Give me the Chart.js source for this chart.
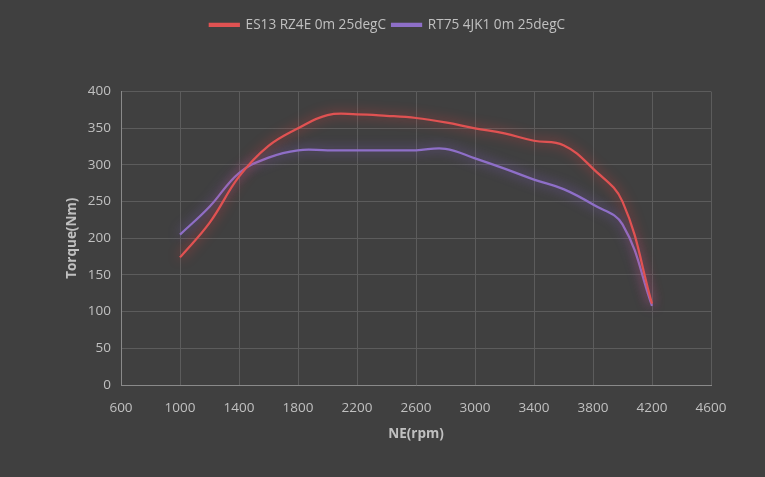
<!DOCTYPE html>
<html>
<head>
<meta charset="utf-8">
<script src="https://cdn.jsdelivr.net/npm/chart.js@4.4.1/dist/chart.umd.min.js"></script>
<style>
  html, body { margin: 0; padding: 0; background: #404040; }
  #wrap { width: 765px; height: 477px; }
</style>
</head>
<body>
<div id="wrap"><canvas id="torque"></canvas></div>
<script>
// rpm / torque readings
const rpm = [1000, 1200, 1400, 1600, 1800, 2000, 2200, 2400, 2600, 2800, 3000, 3200, 3400, 3600, 3800, 4000, 4200];
const es13 = [174, 221, 284, 326, 350, 368, 369, 367, 364, 358, 350, 343, 333, 327, 295, 250, 111];
const rt75 = [205, 243, 289, 310, 320, 320, 320, 320, 320, 322, 309, 295, 280, 267, 246, 219, 108];
const xTicks = [600, 1000, 1400, 1800, 2200, 2600, 3000, 3400, 3800, 4200, 4600];
const yTicks = [0, 50, 100, 150, 200, 250, 300, 350, 400];

const txt = '#c0c0c0';
const grid = '#5c5c5c';
const fnt = 'Open Sans';

// glow round the lines, like the excel "glow" effect
const glow = {
    id: 'glow',
    beforeDatasetDraw(chart, args) {
        const ctx = chart.ctx;
        ctx.save();
        ctx.shadowColor = args.index === 0 ? 'rgba(235,60,60,0.85)' : 'rgba(140,100,215,0.85)';
        ctx.shadowBlur = 12;
    },
    afterDatasetDraw(chart) {
        chart.ctx.restore();
    }
};

// extra room under the legend
const legendGap = {
    id: 'legendGap',
    beforeInit(chart) {
        const fit = chart.legend.fit;
        chart.legend.fit = function() {
            fit.bind(chart.legend)();
            this.height += 50;
        };
    }
};

const toPts = (xs, ys) => xs.map((x, i) => ({x: x, y: ys[i]}));

new Chart(document.getElementById('torque'), {
    type: 'line',
    data: {
        datasets: [
            {label: 'ES13 RZ4E 0m 25degC', data: toPts(rpm, es13), borderColor: '#e05252', backgroundColor: '#e05252', borderWidth: 2.25, pointRadius: 0, tension: 0.4},
            {label: 'RT75 4JK1 0m 25degC', data: toPts(rpm, rt75), borderColor: '#8e6fc8', backgroundColor: '#8e6fc8', borderWidth: 2.25, pointRadius: 0, tension: 0.4}
        ]
    },
    options: {
        responsive: true,
        maintainAspectRatio: false,
        animation: false,
        layout: {padding: {left: 64, right: 54, top: 12, bottom: 31}},
        plugins: {
            legend: {
                labels: {color: txt, font: {family: fnt, size: 13.6}, boxWidth: 29, boxHeight: 2, padding: 6}
            },
            tooltip: {enabled: false}
        },
        scales: {
            x: {
                type: 'linear',
                min: 600, max: 4600,
                afterBuildTicks: s => { s.ticks = xTicks.map(v => ({value: v})); },
                afterFit: s => { s.height = 61; },
                grid: {color: grid, drawTicks: false},
                border: {color: '#8a8a8a'},
                ticks: {color: txt, font: {family: fnt, size: 13.5}, padding: 15, maxRotation: 0, callback: v => String(v)},
                title: {display: true, text: 'NE(rpm)', color: txt, font: {family: fnt, size: 13.5, weight: 'bold'}, padding: {top: 8}}
            },
            y: {
                min: 0, max: 400,
                afterBuildTicks: s => { s.ticks = yTicks.map(v => ({value: v})); },
                afterFit: s => { s.width = 57; },
                grid: {color: grid, drawTicks: false},
                border: {color: '#8a8a8a'},
                ticks: {color: txt, font: {family: fnt, size: 13.5}, padding: 10, callback: v => String(v)},
                title: {display: true, text: 'Torque(Nm)', color: txt, font: {family: fnt, size: 13.5, weight: 'bold'}, padding: 0}
            }
        }
    },
    plugins: [glow, legendGap]
});
</script>
</body>
</html>
